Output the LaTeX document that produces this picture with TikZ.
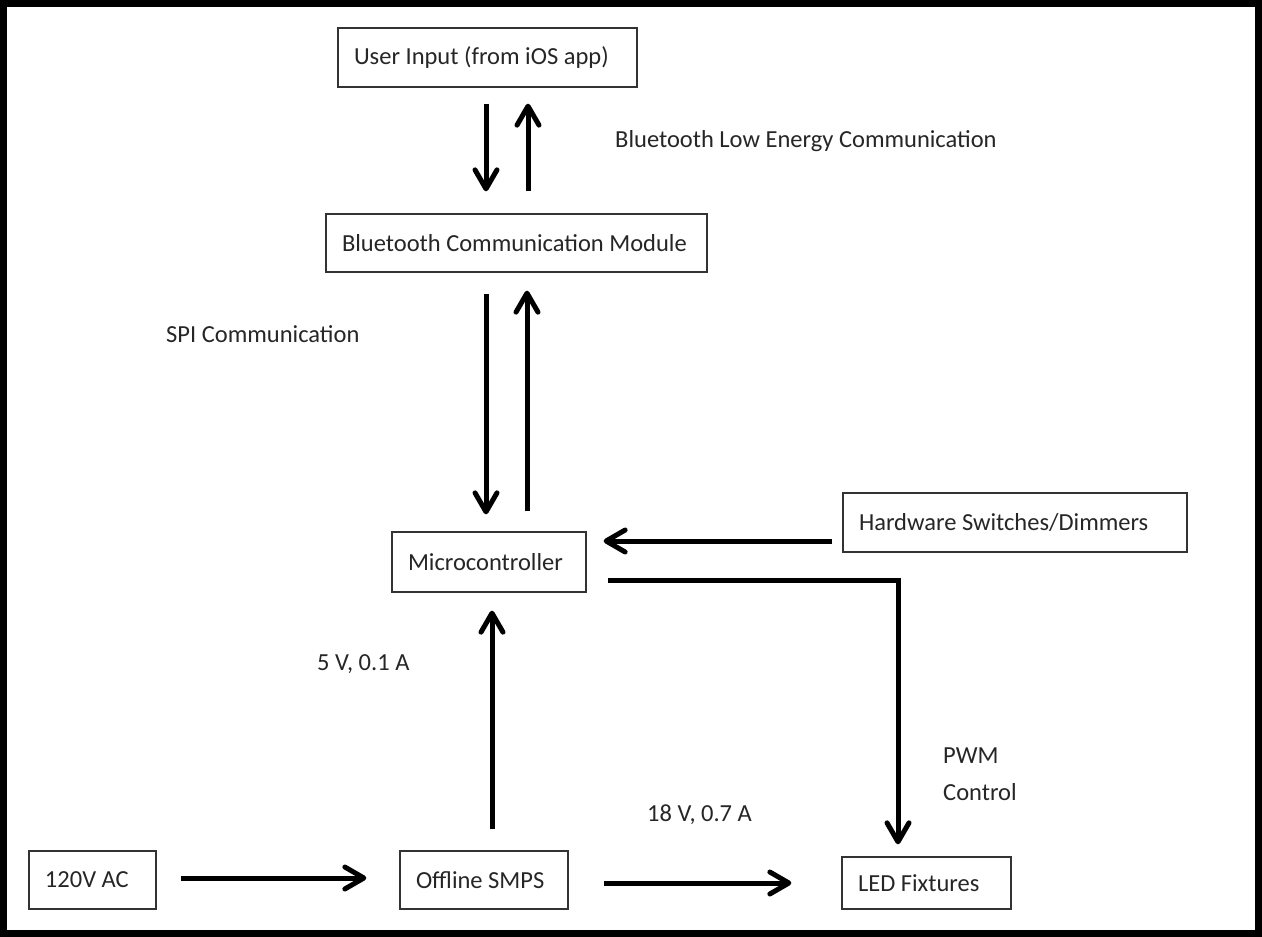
\documentclass[tikz,border=0pt]{standalone}
\usepackage{fontspec}
\setmainfont{Carlito}
\usetikzlibrary{arrows.meta}

\begin{document}
\begin{tikzpicture}[x=1pt,y=-1pt,
    font=\fontsize{24.5}{37}\selectfont,
    block/.style={draw=black!80, line width=1.3pt, text=black!85, align=flush left,
        inner xsep=16pt, inner ysep=0pt, minimum height=58pt, text width=#1},
    lbl/.style={text=black!85, inner sep=0pt, anchor=base west, align=flush left},
    flow/.style={line width=5pt, -{Straight Barb[length=19pt,width=22pt,round]}}]
        \useasboundingbox (0,0) rectangle (1262,937);
        \draw[line width=7pt] (3.5,3.5) rectangle (1258.5,933.5);

        % boxes
        \node[block=267pt, minimum height=59pt] (ui) at (487.5,57.5) {User Input (from iOS app)};
        \node[block=349pt] (bt) at (516.5,243) {Bluetooth Communication Module};
        \node[block=162pt, minimum height=60pt] (mc) at (489,562) {Microcontroller};
        \node[block=312pt, minimum height=59pt] (hw) at (1015,522.5) {Hardware Switches/Dimmers};
        \node[block=95pt] (ac) at (92.5,880) {120V AC};
        \node[block=136pt] (smps) at (484,880) {Offline SMPS};
        \node[block=137pt, minimum height=52pt] (led) at (926.5,883) {LED Fixtures};

        % labels
        \node[lbl] (ble) at (615,147) {Bluetooth Low Energy Communication};
        \node[lbl] (spi) at (166,342) {SPI Communication};
        \node[lbl] (v5) at (317,670) {5 V, 0.1 A};
        \node[lbl] (v18) at (647,821) {18 V, 0.7 A};
        \node[lbl] (pwm) at (943,800) {PWM\\Control};

        % arrows
        \draw[flow, shorten <=16pt, shorten >=22pt] ([xshift=-1.5pt]ui.south) -- ([xshift=-30.5pt]bt.north);
        \draw[flow, shorten <=22pt, shorten >=16pt] ([xshift=11.5pt]bt.north) -- ([xshift=40.5pt]ui.south);
        \draw[flow, shorten <=21pt, shorten >=17pt] ([xshift=-30.5pt]bt.south) -- ([xshift=-3pt]mc.north);
        \draw[flow, shorten <=20pt, shorten >=18pt] ([xshift=38pt]mc.north) -- ([xshift=10.5pt]bt.south);
        \draw[flow, shorten <=10pt, shorten >=17pt] ([yshift=-18.5pt]hw.west) -- ([yshift=21pt]mc.east);
        \draw[flow, shorten <=21pt, shorten >=12pt] ([yshift=-18pt]mc.east) -| ([xshift=-28.5pt]led.north);
        \draw[flow, shorten <=21pt, shorten >=18pt] ([xshift=8pt]smps.north) -- ([xshift=3pt]mc.south);
        \draw[flow, shorten <=24pt, shorten >=33pt] ([yshift=2pt]ac.east) -- ([yshift=2pt]smps.west);
        \draw[flow, shorten <=35pt, shorten >=50pt] ([yshift=-3pt]smps.east) -- (led.west);
\end{tikzpicture}
\end{document}
